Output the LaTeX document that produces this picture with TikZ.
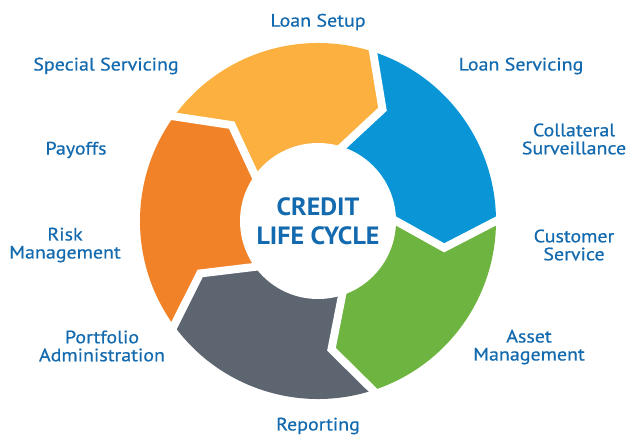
\documentclass[tikz,border=0pt]{standalone}
\usepackage{fontspec}
\setmainfont{PT Sans}
\newfontfamily\labelfont{PT Sans}[FakeStretch=1.11, FakeBold=0.6]
\newfontfamily\hubfont{PT Sans Bold}[FakeStretch=1.04]
\usepackage{tikz}
\usetikzlibrary{positioning}
\definecolor{cyclegold}{RGB}{251,176,64}
\definecolor{cycleblue}{RGB}{9,149,214}
\definecolor{cyclegreen}{RGB}{110,180,64}
\definecolor{cyclegray}{RGB}{93,102,112}
\definecolor{cycleorange}{RGB}{242,130,40}
\definecolor{labelblue}{RGB}{20,106,174}
\tikzset{
  steplabel/.style={text=labelblue, align=center, inner sep=0pt,
    font=\labelfont\fontsize{18}{18}\selectfont},
  gapline/.style={white, line width=8pt, line join=miter, line cap=rect},
  hub/.style={circle, fill=white, minimum size=156pt, inner sep=0pt,
    text=labelblue, align=center, font=\hubfont\fontsize{25}{29}\selectfont}
}
\begin{document}
\begin{tikzpicture}[x=1pt,y=1pt]
  \useasboundingbox (-318,-215) rectangle (310,221);
  % the five arrows, running clockwise
  \foreach \b/\col in {144/cyclegold,72/cycleblue,0/cyclegreen,-72/cyclegray,-144/cycleorange}{
    \pgfmathsetmacro{\e}{\b-72}
    \fill[\col] (\b:178) arc[start angle=\b, end angle=\e, radius=178]
      -- (\e-12:129) -- (\e:78) -- (0,0) -- (\b:78) -- (\b-12:129) -- cycle;
  }
  % white cuts between the arrows
  \foreach \b in {144,72,0,-72,-144}
    \draw[gapline] (\b:178) -- (\b-12:129) -- (\b:78);
  \node[hub] (hub) at (0,0) {CREDIT\\LIFE CYCLE};

  \node[steplabel] (setup) at (0,199) {Loan Setup};
  \node[steplabel] (servicing) at (203,155) {Loan Servicing};
  \node[steplabel] (collateral) at (256,82) {Collateral\\Surveillance};
  \node[steplabel] (customer) at (256,-24) {Customer\\Service};
  \node[steplabel] (asset) at (211,-126) {Asset\\Management};
  \node[steplabel] (reporting) at (0,-205) {Reporting};
  \node[steplabel] (portfolio) at (-216,-125) {Portfolio\\Administration};
  \node[steplabel] (risk) at (-253,-24) {Risk\\Management};
  \node[steplabel] (payoffs) at (-242,71) {Payoffs};
  \node[steplabel] (special) at (-212,155) {Special Servicing};
\end{tikzpicture}
\end{document}
